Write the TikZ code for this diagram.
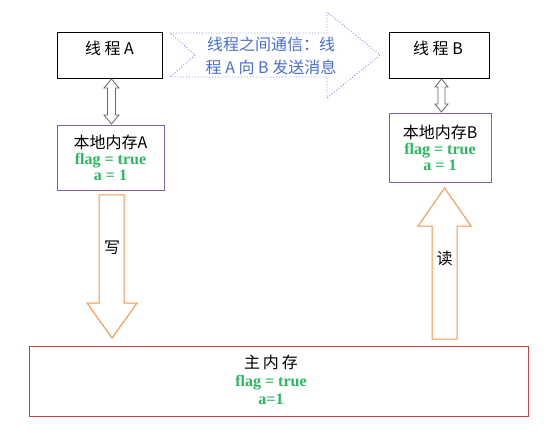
\documentclass[tikz,border=0pt]{standalone}
\usepackage{fontspec}
\setmainfont{Noto Sans CJK SC}
\newfontfamily\valfont{Liberation Serif}
\usepackage{xcolor}
\usetikzlibrary{positioning,arrows.meta}
\definecolor{localpurple}{RGB}{128,100,162}
\definecolor{mainred}{RGB}{192,70,75}
\definecolor{valgreen}{RGB}{40,185,95}
\definecolor{msgblue}{RGB}{70,110,215}
\definecolor{msgdots}{RGB}{120,140,225}
\definecolor{rworange}{RGB}{247,150,70}
\newcommand{\greenval}[1]{{\valfont\bfseries\color{valgreen}#1}}

\begin{document}
\begin{tikzpicture}[x=1pt, y=-1pt, font=\fontsize{16}{16}\selectfont,
  threadbox/.style={draw, line width=0.8pt, minimum width=105pt, minimum height=46pt, inner sep=0pt},
  localbox/.style={draw=localpurple, line width=0.8pt, minimum width=107pt, minimum height=65pt, align=center, inner sep=0pt},
  syncarrow/.style={draw=black!60, line width=0.8pt, fill=white},
  rwarrow/.style={draw=rworange, line width=1pt, fill=white}]
\useasboundingbox (0,0) rectangle (556,446);

% threads and their local memory
\node[threadbox] (ta) at (109.5,55) {};
\node (talabel) at (109.5,48) {线 程 A};
\node[threadbox, minimum width=100pt] (tb) at (439,55) {};
\node (tblabel) at (438,48) {线 程 B};

\node[localbox] (la) at (110.5,157.5) {本地内存A\\ \greenval{flag = true}\\ \greenval{a = 1}};
\node[localbox, minimum width=102pt, minimum height=69pt] (lb) at (440,147.5) {本地内存B\\ \greenval{flag = true}\\ \greenval{a = 1}};

% hollow two-way arrows thread <-> local memory
\draw[syncarrow] (111.5,79) -- (119,88) -- (115.5,88) -- (115.5,115) -- (119,115) -- (111.5,124)
  -- (104,115) -- (107.5,115) -- (107.5,88) -- (104,88) -- cycle;
\draw[syncarrow] (441.5,79) -- (448,87) -- (445,87) -- (445,104) -- (448,104) -- (441.5,112)
  -- (435,104) -- (438,104) -- (438,87) -- (435,87) -- cycle;

% message between threads
\draw[msgdots, line width=0.9pt, dotted] (170,33) -- (327,33) -- (327,12) -- (380,55)
  -- (327,98) -- (327,77) -- (170,77) -- (195,55) -- cycle;
\node[align=center, text=msgblue, font=\fontsize{16}{23}\selectfont] (msg) at (271,56) {线程之间通信：线\\程 A 向 B 发送消息};

% main memory
\node[draw=mainred, line width=1pt, minimum width=499pt, minimum height=70pt] (mm) at (278.5,381) {};
\node[align=center, font=\fontsize{16}{18}\selectfont] (mmtext) at (271,380) {主\hspace{3pt}内\hspace{3pt}存\\ \greenval{flag = true}\\ \greenval{a=1}};

% write and read
\draw[rwarrow] (99,195) -- (124,195) -- (124,303) -- (137,303) -- (112,338) -- (87,303) -- (99,303) -- cycle;
\node (write) at (112,248) {写};
\draw[rwarrow] (444.5,188) -- (471,226) -- (457,226) -- (457,339) -- (432,339) -- (432,226) -- (418,226) -- cycle;
\node (read) at (444.5,258) {读};
\end{tikzpicture}
\end{document}
